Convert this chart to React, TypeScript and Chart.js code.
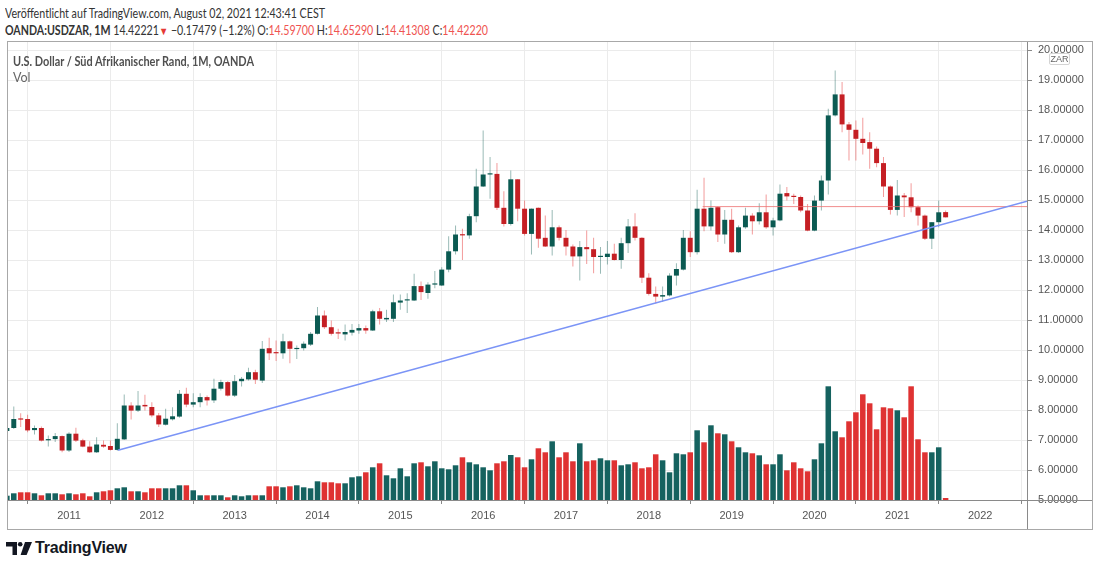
import React, { useEffect, useLayoutEffect, useRef } from 'react';
import { Chart, registerables } from 'chart.js';

Chart.register(...registerables);

// Monthly OANDA:USDZAR candles, index 0 = April 2010 ... index 136 = August 2021
const opens: number[] = [
  7.30, 7.40, 7.71, 7.70, 7.33, 7.40, 6.99, 7.03, 7.13, 6.65,
  7.21, 6.99, 6.78, 6.59, 6.84, 6.80, 6.67, 7.02, 8.15, 7.98,
  8.17, 8.10, 7.82, 7.51, 7.69, 7.78, 8.54, 8.18, 8.26, 8.43,
  8.32, 8.71, 8.93, 8.48, 8.96, 9.02, 9.26, 8.98, 10.06, 9.93,
  9.89, 10.29, 10.03, 10.06, 10.18, 10.54, 11.15, 10.76, 10.57, 10.52,
  10.58, 10.65, 10.73, 10.65, 11.29, 11.02, 11.04, 11.58, 11.65, 11.65,
  12.13, 11.90, 12.18, 12.15, 12.68, 13.29, 13.85, 13.82, 14.46, 15.45,
  15.85, 15.87, 14.74, 14.20, 15.69, 14.71, 13.87, 14.74, 13.74, 13.45,
  14.09, 13.74, 13.45, 13.12, 13.43, 13.36, 13.10, 13.10, 13.21, 13.00,
  13.56, 14.12, 13.74, 12.41, 11.87, 11.78, 11.82, 12.48, 12.68, 13.74,
  13.26, 14.71, 14.12, 14.76, 13.85, 14.34, 13.26, 14.09, 14.48, 14.29,
  14.59, 14.09, 14.32, 15.23, 15.12, 15.10, 14.65, 13.98, 14.98, 15.65,
  17.82, 18.52, 17.52, 17.34, 17.04, 16.93, 16.71, 16.23, 15.45, 14.67,
  15.15, 15.09, 14.76, 14.48, 13.71, 14.26, 14.597,
];
const highs: number[] = [
  7.56, 8.12, 7.89, 7.84, 7.48, 7.45, 7.15, 7.23, 7.15, 7.26,
  7.41, 7.04, 6.96, 7.09, 6.98, 6.98, 7.56, 8.52, 8.26, 8.63,
  8.51, 8.26, 7.90, 8.04, 8.09, 8.67, 8.74, 8.56, 8.56, 8.48,
  9.04, 9.01, 8.97, 9.17, 9.10, 9.41, 9.34, 10.30, 10.41, 10.32,
  10.54, 10.32, 10.15, 10.28, 10.60, 11.43, 11.32, 10.98, 10.71, 10.85,
  10.87, 10.87, 10.82, 11.34, 11.40, 11.34, 11.85, 11.85, 11.89, 12.54,
  12.28, 12.26, 12.63, 12.76, 13.79, 14.15, 14.04, 14.54, 16.04, 17.32,
  16.43, 16.23, 15.29, 15.98, 15.70, 14.98, 14.72, 14.75, 14.48, 14.67,
  14.15, 14.00, 13.52, 13.63, 13.98, 13.74, 13.43, 13.63, 13.54, 13.74,
  14.37, 14.56, 13.76, 12.56, 12.12, 12.12, 12.56, 12.89, 14.00, 13.96,
  15.34, 15.74, 14.98, 14.78, 14.67, 14.71, 14.15, 14.74, 14.56, 14.89,
  15.18, 14.41, 15.52, 15.43, 15.21, 15.15, 14.87, 15.15, 15.82, 18.04,
  19.32, 18.93, 17.60, 17.65, 17.74, 17.26, 16.78, 16.43, 15.48, 15.67,
  15.23, 15.56, 14.82, 14.52, 14.26, 14.98, 14.6529,
];
const lows: number[] = [
  7.21, 7.37, 7.43, 7.26, 7.18, 6.95, 6.78, 6.93, 6.59, 6.60,
  6.93, 6.76, 6.57, 6.57, 6.74, 6.65, 6.64, 7.00, 7.68, 7.93,
  7.98, 7.76, 7.43, 7.48, 7.65, 7.74, 8.09, 8.09, 8.09, 8.15,
  8.23, 8.65, 8.45, 8.43, 8.78, 8.98, 8.87, 8.90, 9.67, 9.63,
  9.71, 9.56, 9.70, 9.98, 10.13, 10.52, 10.70, 10.48, 10.37, 10.32,
  10.48, 10.54, 10.54, 10.63, 10.85, 10.93, 10.93, 11.34, 11.23, 11.63,
  11.67, 11.71, 12.06, 12.13, 12.59, 13.18, 13.00, 13.71, 14.26, 15.43,
  15.04, 14.67, 14.12, 14.15, 14.29, 13.82, 13.18, 13.41, 13.43, 13.15,
  13.65, 13.15, 12.78, 12.32, 12.87, 12.56, 12.54, 12.85, 12.98, 12.71,
  13.23, 13.65, 12.23, 11.82, 11.55, 11.60, 11.78, 12.15, 12.65, 13.10,
  13.18, 13.96, 13.98, 13.60, 13.54, 13.23, 13.23, 14.04, 13.85, 14.18,
  14.04, 13.82, 14.29, 14.98, 14.87, 14.59, 13.96, 13.96, 14.65, 15.18,
  17.78, 17.26, 16.32, 16.32, 16.52, 16.04, 16.09, 15.10, 14.52, 14.48,
  14.43, 14.59, 14.15, 13.67, 13.37, 14.09, 14.41308,
];
const closes: number[] = [
  7.40, 7.70, 7.68, 7.32, 7.40, 6.98, 7.03, 7.13, 6.65, 7.21,
  6.98, 6.78, 6.59, 6.85, 6.78, 6.67, 7.04, 8.15, 7.98, 8.15,
  8.12, 7.82, 7.52, 7.71, 7.79, 8.54, 8.18, 8.26, 8.43, 8.32,
  8.71, 8.93, 8.48, 8.96, 9.04, 9.26, 9.01, 10.04, 9.89, 9.89,
  10.29, 10.04, 10.06, 10.21, 10.54, 11.15, 10.76, 10.54, 10.55, 10.60,
  10.67, 10.73, 10.65, 11.29, 11.04, 11.07, 11.59, 11.65, 11.68, 12.13,
  11.93, 12.18, 12.22, 12.68, 13.29, 13.85, 13.82, 14.46, 15.45, 15.85,
  15.88, 14.74, 14.20, 15.69, 14.71, 13.87, 14.71, 13.71, 13.45, 14.09,
  13.74, 13.45, 13.12, 13.43, 13.36, 13.10, 13.12, 13.21, 13.00, 13.56,
  14.12, 13.74, 12.41, 11.87, 11.78, 11.83, 12.48, 12.70, 13.74, 13.26,
  14.71, 14.12, 14.74, 13.85, 14.34, 13.26, 14.09, 14.48, 14.29, 14.59,
  14.09, 14.32, 15.21, 15.12, 15.10, 14.65, 13.98, 14.98, 15.65, 17.82,
  18.52, 17.52, 17.34, 17.04, 16.90, 16.71, 16.23, 15.45, 14.67, 15.15,
  15.09, 14.76, 14.48, 13.71, 14.26, 14.59, 14.4222,
];
// Volume (relative units, thousands)
const volumes: number[] = [
  43, 67, 77, 77, 67, 47, 67, 67, 57, 67,
  57, 67, 37, 77, 87, 97, 117, 127, 87, 87,
  77, 117, 117, 117, 117, 147, 147, 97, 47, 47,
  47, 47, 27, 47, 37, 47, 47, 47, 137, 137,
  127, 137, 147, 127, 117, 187, 177, 177, 167, 167,
  227, 237, 277, 327, 367, 247, 217, 317, 237, 367,
  377, 337, 387, 317, 307, 347, 427, 377, 357, 327,
  297, 367, 387, 450, 427, 327, 407, 517, 477, 587,
  427, 477, 387, 567, 387, 397, 417, 397, 397, 347,
  357, 377, 317, 327, 457, 397, 277, 467, 457, 477,
  697, 577, 747, 667, 657, 587, 527, 477, 467, 447,
  357, 357, 457, 297, 377, 317, 287, 407, 567, 1137,
  687, 627, 787, 877, 1057, 967, 707, 927, 917, 897,
  827, 1137, 607, 477, 477, 527, 20,
];

// Drawings: rising trend line and horizontal resistance level (x = month index)
const trendX: number[] = [16.1, 147.79];
const trendY: number[] = [6.66, 14.957];
const levelX: number[] = [100.8, 147.79];
const levelY: number[] = [14.78, 14.78];

// Axis tick labels
const yearLabels: string[] = ['2011', '2012', '2013', '2014', '2015', '2016', '2017', '2018', '2019', '2020', '2021', '2022'];
const yearTickIndex: number[] = [9, 21, 33, 45, 57, 69, 81, 93, 105, 117, 129, 141];
const priceTicks: number[] = [5, 6, 7, 8, 9, 10, 11, 12, 13, 14, 15, 16, 17, 18, 19, 20];

const UP_BODY = '#0b5a52';
const DOWN_BODY = '#c51f24';
const UP_WICK = 'rgba(11,90,82,0.42)';
const DOWN_WICK = 'rgba(232,58,58,0.5)';
const UP_VOL = '#15625f';
const DOWN_VOL = '#df3232';

const HEAD_FONT = 'Lato, "Open Sans", "Liberation Sans", sans-serif';
const AXIS_FONT = '"Liberation Sans", Arial, sans-serif';

function FitText(props: { left: number; top: number; width: number; style: React.CSSProperties; children: React.ReactNode }) {
  const r = useRef<HTMLDivElement | null>(null);
  useLayoutEffect(() => {
    const el = r.current;
    if (!el) return;
    el.style.transform = 'none';
    const w = el.getBoundingClientRect().width;
    if (w > 0) el.style.transform = `scaleX(${props.width / w})`;
  });
  return (
    <div
      ref={r}
      style={{
        position: 'absolute',
        left: props.left,
        top: props.top,
        whiteSpace: 'nowrap',
        transformOrigin: '0 0',
        ...props.style,
      }}
    >
      {props.children}
    </div>
  );
}

export default function App() {
  const ref = useRef<HTMLCanvasElement | null>(null);

  useEffect(() => {
    if (!ref.current) return;
    const idx = opens.map((_, i) => i);
    const isUp = (i: number) => closes[i] >= opens[i];
    const chart = new Chart(ref.current, {
      type: 'bar',
      data: {
        datasets: [
          {
            type: 'line',
            data: trendX.map((x, i) => ({ x, y: trendY[i] })),
            borderColor: '#7b94f6',
            borderWidth: 1.6,
            pointRadius: 0,
            yAxisID: 'y',
            xAxisID: 'x',
            order: 0,
          } as any,
          {
            type: 'line',
            data: levelX.map((x, i) => ({ x, y: levelY[i] })),
            borderColor: 'rgba(236,112,112,0.8)',
            borderWidth: 1,
            pointRadius: 0,
            yAxisID: 'y',
            xAxisID: 'x',
            order: 1,
          } as any,
          {
            type: 'bar',
            data: idx.map((i) => ({ x: i, y: [opens[i], closes[i]] })),
            backgroundColor: idx.map((i) => (isUp(i) ? UP_BODY : DOWN_BODY)),
            borderWidth: 0,
            barPercentage: 0.72,
            categoryPercentage: 1,
            grouped: false,
            minBarLength: 1.2,
            yAxisID: 'y',
            xAxisID: 'x',
            order: 2,
          } as any,
          {
            type: 'bar',
            data: idx.map((i) => ({ x: i, y: [lows[i], highs[i]] })),
            backgroundColor: idx.map((i) => (isUp(i) ? UP_WICK : DOWN_WICK)),
            borderWidth: 0,
            barThickness: 1,
            inflateAmount: 0,
            grouped: false,
            yAxisID: 'y',
            xAxisID: 'x',
            order: 3,
          } as any,
          {
            type: 'bar',
            data: idx.map((i) => ({ x: i, y: volumes[i] })),
            backgroundColor: idx.map((i) => (isUp(i) ? UP_VOL : DOWN_VOL)),
            borderWidth: 0,
            barPercentage: 0.8,
            categoryPercentage: 1,
            grouped: false,
            yAxisID: 'yVol',
            xAxisID: 'x',
            order: 4,
          } as any,
        ],
      },
      options: {
        animation: false,
        responsive: false,
        events: [],
        layout: { padding: 0 },
        plugins: { legend: { display: false }, tooltip: { enabled: false } },
        scales: {
          x: {
            type: 'linear',
            min: 0.017,
            max: 147.79,
            offset: false,
            afterBuildTicks: (s: any) => {
              s.ticks = yearTickIndex.map((v) => ({ value: v }));
            },
            afterFit: (s: any) => {
              s.height = 30;
              s.paddingLeft = 0;
              s.paddingRight = 0;
            },
            ticks: {
              autoSkip: false,
              maxRotation: 0,
              color: '#555',
              padding: 5,
              font: { size: 11, family: AXIS_FONT },
              callback: (v: any) => {
                const k = yearTickIndex.indexOf(Number(v));
                return k >= 0 ? yearLabels[k] : '';
              },
            },
            grid: { color: '#ebebeb', tickColor: '#888', tickLength: 4, lineWidth: 1 },
            border: { display: true, color: '#8a8a8a' },
          },
          y: {
            type: 'linear',
            position: 'right',
            min: 5,
            max: 20.3,
            afterBuildTicks: (s: any) => {
              s.ticks = priceTicks.map((v) => ({ value: v }));
            },
            afterFit: (s: any) => {
              s.width = 66;
              s.paddingTop = 0;
              s.paddingBottom = 0;
            },
            ticks: {
              autoSkip: false,
              color: '#555',
              padding: 6,
              font: { size: 11, family: AXIS_FONT },
              callback: (v: any) => Number(v).toFixed(5),
            },
            grid: { color: '#ebebeb', tickColor: '#888', tickLength: 5, lineWidth: 1 },
            border: { display: true, color: '#8a8a8a' },
          },
          yVol: {
            type: 'linear',
            display: false,
            min: 0,
            max: 4590,
            grid: { display: false },
          },
        },
      } as any,
    });
    return () => chart.destroy();
  }, []);

  const red = '#ef5350';
  return (
    <div
      style={{
        position: 'absolute',
        left: 0,
        top: 0,
        width: 1100,
        height: 566,
        background: '#fff',
        overflow: 'hidden',
      }}
    >
      <FitText left={5} top={6} width={320} style={{ fontFamily: HEAD_FONT, fontSize: 12.5, color: '#333' }}>
        Veröffentlicht auf TradingView.com, August 02, 2021 12:43:41 CEST
      </FitText>
      <FitText left={5} top={23} width={483} style={{ fontFamily: HEAD_FONT, fontSize: 12.5, color: '#333' }}>
        <b>OANDA:USDZAR, 1M</b> 14.42221<span style={{ color: '#e53935', fontSize: 11 }}>▼</span> −0.17479 (−1.2%) O:
        <span style={{ color: red }}>14.59700</span> H:<span style={{ color: red }}>14.65290</span> L:
        <span style={{ color: red }}>14.41308</span> C:<span style={{ color: red }}>14.42220</span>
      </FitText>

      <canvas
        ref={ref}
        width={1086}
        height={489}
        style={{ position: 'absolute', left: 7, top: 41, width: 1086, height: 489 }}
      />
      <div
        style={{
          position: 'absolute',
          left: 7,
          top: 41,
          width: 1086,
          height: 489,
          border: '1px solid #a8a8a8',
          boxSizing: 'border-box',
          pointerEvents: 'none',
        }}
      />
      <div style={{ position: 'absolute', left: 1027, top: 500, width: 1, height: 29, background: '#8a8a8a' }} />
      <div style={{ position: 'absolute', left: 1027, top: 500, width: 65, height: 1, background: '#8a8a8a' }} />

      <FitText
        left={13}
        top={53}
        width={241}
        style={{ fontFamily: HEAD_FONT, fontSize: 13, fontWeight: 700, color: '#505050' }}
      >
        U.S. Dollar / Süd Afrikanischer Rand, 1M, OANDA
      </FitText>
      <div
        style={{
          position: 'absolute',
          left: 13,
          top: 70,
          fontFamily: HEAD_FONT,
          fontSize: 12.5,
          color: '#666',
        }}
      >
        Vol
      </div>

      <div
        style={{
          position: 'absolute',
          left: 1049,
          top: 53,
          width: 21,
          height: 12,
          border: '1px solid #d4d4d4',
          borderRadius: 2,
          background: '#fff',
          boxSizing: 'border-box',
          fontFamily: AXIS_FONT,
          fontSize: 9,
          lineHeight: '10px',
          color: '#666',
          textAlign: 'center',
        }}
      >
        ZAR
      </div>

      <div style={{ position: 'absolute', left: 6, top: 539, display: 'flex', alignItems: 'center' }}>
        <svg width="26" height="13" viewBox="0 0 26 13">
          <path d="M0 0 H11 V13 H6.5 V4.5 H0 Z" fill="#131722" />
          <circle cx="14.2" cy="2.3" r="2.3" fill="#131722" />
          <path d="M19 0 H26 L20.6 13 H14.6 Z" fill="#131722" />
        </svg>
        <span
          style={{
            marginLeft: 3,
            fontFamily: '"Liberation Sans", Arial, sans-serif',
            fontSize: 16,
            fontWeight: 700,
            color: '#131722',
            letterSpacing: -0.2,
          }}
        >
          TradingView
        </span>
      </div>
    </div>
  );
}
